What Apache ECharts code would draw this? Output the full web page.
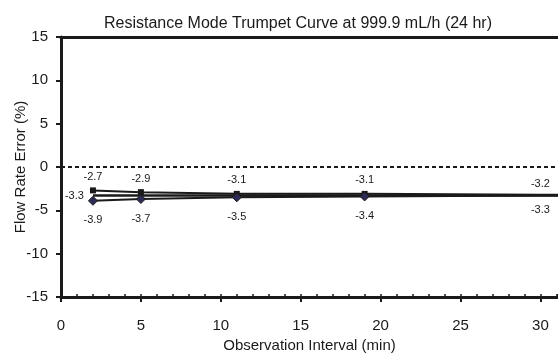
<!DOCTYPE html>
<html><head><meta charset="utf-8">
<script src="https://cdn.jsdelivr.net/npm/echarts@6/dist/echarts.min.js"></script>
<style>html,body{margin:0;padding:0;background:#fff}#c{width:558px;height:356px}</style>
</head><body><div id="c"></div>
<script>
var titleText = 'Resistance Mode Trumpet Curve at 999.9 mL/h (24 hr)';
var xName = 'Observation Interval (min)';
var yName = 'Flow Rate Error (%)';
var intervals = [2, 5, 11, 19, 30, 60];
var maxErr = [-2.7, -2.9, -3.1, -3.1, -3.2, -3.2];
var minErr = [-3.9, -3.7, -3.5, -3.4, -3.3, -3.3];
var meanX = [2, 60];
var meanErr = [-3.3, -3.3];
var yTicks = [-15, -10, -5, 0, 5, 10, 15];
var xTicks = [0, 5, 10, 15, 20, 25, 30];

var font = 'Liberation Sans, Arial, sans-serif';
function pts(xs, ys) {
  return xs.map(function (x, i) {
    var d = { value: [x, ys[i]] };
    if (x >= 30) d.symbolSize = 0;
    if (x > 31) d.label = { show: false };
    return d;
  });
}
var chart = echarts.init(document.getElementById('c'));
var xBase = { type: 'value', min: 0, max: 31.1, interval: 5 };
chart.setOption({
  animation: false,
  title: { text: titleText, left: 293, top: 11, textAlign: 'center',
    textStyle: { fontFamily: font, fontSize: 16, fontWeight: 'normal', color: '#1a1a1a' } },
  grid: { left: 61, right: 0, top: 37, bottom: 59, containLabel: false, outerBoundsMode: 'none' },
  xAxis: [
    Object.assign({}, xBase, {
      name: xName, nameLocation: 'middle', nameGap: 41, nameMoveOverlap: false,
      nameTextStyle: { fontFamily: font, fontSize: 15, color: '#1a1a1a' },
      axisLine: { onZero: false, lineStyle: { color: '#1a1a1a', width: 3 } },
      axisTick: { length: 5, lineStyle: { color: '#1a1a1a', width: 2 } },
      axisLabel: { fontFamily: font, fontSize: 15, color: '#1a1a1a', margin: 21, showMaxLabel: false,
        formatter: function (v) { return xTicks.indexOf(v) >= 0 ? String(v) : ''; } },
      splitLine: { show: false }
    }),
    Object.assign({}, xBase, {
      interval: 1, position: 'bottom',
      axisLine: { show: false, onZero: false },
      axisTick: { inside: true, length: 3, lineStyle: { color: '#1a1a1a', width: 1.5 } },
      axisLabel: { show: false }, splitLine: { show: false }
    }),
    Object.assign({}, xBase, {
      position: 'top',
      axisLine: { onZero: false, lineStyle: { color: '#1a1a1a', width: 3 } },
      axisTick: { show: false }, axisLabel: { show: false }, splitLine: { show: false }
    })
  ],
  yAxis: {
    type: 'value', min: -15, max: 15, interval: 5,
    name: yName, nameLocation: 'middle', nameGap: 33, nameRotate: 90, nameMoveOverlap: false,
    nameTextStyle: { fontFamily: font, fontSize: 15, color: '#1a1a1a' },
    axisLine: { show: true, onZero: false, lineStyle: { color: '#1a1a1a', width: 3 } },
    axisTick: { show: true, length: 5, lineStyle: { color: '#1a1a1a', width: 2 } },
    axisLabel: { fontFamily: font, fontSize: 15, color: '#1a1a1a', margin: 13,
      formatter: function (v) { return yTicks.indexOf(v) >= 0 ? String(v) : ''; } },
    splitLine: { show: false }
  },
  series: [
    {
      type: 'line', data: pts(intervals, maxErr), clip: true,
      symbol: 'rect', symbolSize: 6,
      lineStyle: { color: '#1a1a1a', width: 2 },
      itemStyle: { color: '#1a1a1a' },
      label: { show: true, position: 'top', distance: 5, fontFamily: font, fontSize: 11, color: '#1a1a1a' },
      markLine: { silent: true, symbol: 'none', label: { show: false },
        lineStyle: { color: '#1a1a1a', type: [4, 3], width: 2 },
        data: [{ yAxis: 0 }] },
      z: 3
    },
    {
      type: 'line', data: pts(meanX, meanErr), clip: true,
      symbol: 'circle', symbolSize: 0.1, showSymbol: true,
      lineStyle: { color: '#1a1a1a', width: 2.5 },
      itemStyle: { color: '#1a1a1a' },
      label: { show: true, position: 'left', distance: 9, fontFamily: font, fontSize: 11, color: '#1a1a1a',
        formatter: function (p) { return p.dataIndex === 0 ? String(p.value[1]) : ''; } },
      z: 2
    },
    {
      type: 'line', data: pts(intervals, minErr), clip: true,
      symbol: 'diamond', symbolSize: 9,
      lineStyle: { color: '#1a1a1a', width: 2 },
      itemStyle: { color: '#2b2b55', borderColor: '#1a1a1a', borderWidth: 1 },
      label: { show: true, position: 'bottom', distance: 9, fontFamily: font, fontSize: 11, color: '#1a1a1a' },
      z: 4
    }
  ]
});
</script></body></html>
